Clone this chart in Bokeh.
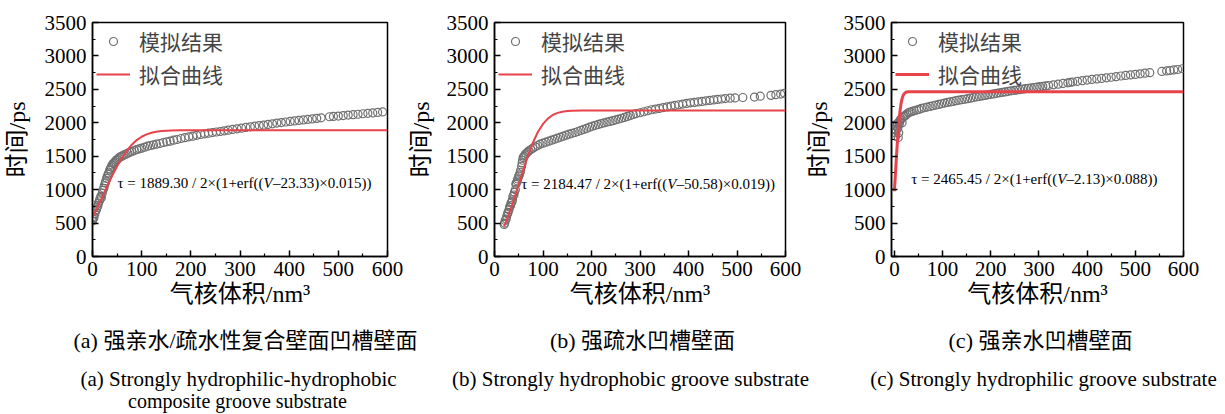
from bokeh.plotting import figure
from bokeh.models import Label, Legend, LegendItem, FixedTicker, Range1d
from bokeh.layouts import row, column
from bokeh.embed import file_html
from bokeh.resources import INLINE

SERIF = "'Liberation Serif', 'Noto Sans CJK SC'"

# ---------------- data ----------------
x_ticks = [0, 100, 200, 300, 400, 500, 600]
y_ticks = [0, 500, 1000, 1500, 2000, 2500, 3000, 3500]

sim_a = [(0, 530), (1, 560), (2, 600), (3, 580), (5, 640), (6, 680), (8, 700), (9, 730), (11, 760),
         (12, 800), (14, 830), (15, 860), (17, 900), (18, 880), (20, 950), (21, 990), (23, 1020),
         (24, 1060), (26, 1100), (27, 1130), (29, 1170), (30, 1200), (32, 1230), (33, 1250),
         (35, 1290), (36, 1310), (38, 1340), (40, 1370), (42, 1390), (44, 1400), (46, 1420),
         (48, 1440), (50, 1450), (53, 1470), (56, 1490), (60, 1500), (64, 1520), (68, 1530),
         (72, 1545), (76, 1560), (80, 1570), (85, 1585), (90, 1600), (95, 1610), (100, 1620),
         (106, 1635), (112, 1650), (118, 1660), (124, 1670), (130, 1680), (137, 1690), (144, 1705),
         (151, 1715), (158, 1725), (165, 1740), (172, 1750), (180, 1765), (188, 1778), (196, 1790),
         (204, 1800), (212, 1812), (220, 1825), (228, 1835), (236, 1845), (244, 1855), (252, 1862),
         (260, 1870), (268, 1880), (276, 1890), (285, 1900), (294, 1910), (303, 1920), (312, 1930),
         (321, 1940), (330, 1950), (339, 1958), (348, 1965), (357, 1975), (366, 1985), (375, 1995),
         (384, 2003), (393, 2012), (402, 2020), (411, 2028), (420, 2035), (429, 2043), (438, 2050),
         (447, 2058), (456, 2066), (465, 2074), (482, 2090), (490, 2095), (500, 2100), (510, 2108),
         (520, 2115), (530, 2122), (540, 2128), (550, 2135), (560, 2142), (570, 2148), (580, 2155),
         (590, 2162)]

sim_b = [(20, 480), (21, 500), (22, 540), (24, 560), (25, 600), (27, 640), (28, 660), (30, 700),
         (31, 740), (33, 760), (34, 800), (36, 820), (37, 850), (38, 900), (40, 920), (41, 960),
         (43, 1000), (44, 1080), (45, 1100), (47, 1130), (48, 1160), (50, 1200), (51, 1220),
         (53, 1260), (54, 1290), (56, 1350), (57, 1400), (58, 1440), (59, 1480), (61, 1500),
         (63, 1520), (65, 1540), (68, 1560), (71, 1580), (75, 1600), (79, 1620), (84, 1640),
         (89, 1660), (94, 1680), (100, 1695), (106, 1710), (112, 1725), (118, 1740), (124, 1755),
         (130, 1770), (136, 1785), (142, 1800), (148, 1815), (154, 1830), (160, 1842), (166, 1855),
         (172, 1870), (178, 1885), (184, 1900), (190, 1915), (196, 1935), (202, 1950), (208, 1962),
         (214, 1975), (220, 1988), (226, 2000), (232, 2010), (238, 2020), (244, 2032), (250, 2045),
         (256, 2055), (262, 2068), (268, 2080), (274, 2095), (280, 2110), (286, 2125), (292, 2138),
         (300, 2150), (308, 2165), (316, 2180), (324, 2195), (332, 2205), (340, 2215), (348, 2228),
         (356, 2238), (364, 2250), (372, 2260), (380, 2270), (388, 2280), (396, 2290), (404, 2298),
         (412, 2305), (420, 2312), (428, 2320), (436, 2328), (444, 2335), (452, 2342), (460, 2350),
         (468, 2356), (476, 2362), (486, 2368), (496, 2372), (512, 2378), (536, 2385), (548, 2398),
         (570, 2410), (580, 2420), (590, 2430), (598, 2440)]

sim_c = [(0, 1960), (1, 1900), (2, 1850), (3, 1800), (4, 1880), (5, 1950), (6, 1990), (7, 1920),
         (8, 1780), (9, 1850), (10, 1980), (11, 2010), (12, 2040), (14, 2060), (16, 2000),
         (18, 2080), (20, 2100), (23, 2110), (26, 2130), (29, 2150), (33, 2160), (37, 2170),
         (41, 2180), (46, 2190), (51, 2200), (56, 2215), (62, 2225), (68, 2235), (74, 2245),
         (80, 2255), (86, 2265), (92, 2275), (98, 2285), (104, 2295), (110, 2305), (116, 2312),
         (122, 2320), (128, 2330), (134, 2338), (140, 2345), (146, 2352), (152, 2360), (158, 2368),
         (164, 2378), (170, 2386), (176, 2395), (182, 2402), (188, 2410), (194, 2418), (200, 2425),
         (206, 2432), (212, 2440), (218, 2448), (224, 2455), (230, 2462), (236, 2470), (242, 2478),
         (248, 2484), (254, 2490), (260, 2497), (266, 2503), (272, 2510), (278, 2516), (284, 2522),
         (290, 2528), (296, 2534), (302, 2540), (308, 2546), (314, 2552), (320, 2558), (330, 2568),
         (340, 2578), (350, 2588), (360, 2598), (365, 2605), (370, 2610), (380, 2620), (390, 2630),
         (400, 2639), (410, 2648), (420, 2656), (430, 2664), (440, 2672), (450, 2681), (460, 2690),
         (470, 2700), (480, 2708), (490, 2716), (500, 2724), (510, 2733), (520, 2742), (530, 2750),
         (555, 2768), (565, 2776), (572, 2782), (580, 2790), (588, 2797), (598, 2808)]

fit_a_v = [0, 10, 20, 30, 40, 50, 60, 70, 80, 90, 100, 110, 120, 130, 140, 150, 160, 180, 200, 600]
fit_a_t = [586, 734, 891, 1051, 1206, 1349, 1477, 1585, 1673, 1741, 1791, 1827, 1851, 1867, 1877,
           1882, 1886, 1889, 1889, 1889]

fit_b_v = [20, 30, 40, 50, 60, 70, 80, 90, 100, 110, 120, 130, 140, 150, 160, 180, 200, 600]
fit_b_t = [449, 633, 848, 1079, 1311, 1527, 1716, 1869, 1983, 2062, 2117, 2148, 2166, 2176, 2181,
           2184, 2184, 2184]

fit_c_v = [0, 1, 2, 3, 4, 5, 6, 7, 8, 9, 10, 12, 14, 16, 18, 20, 25, 30, 600]
fit_c_t = [976, 1095, 1217, 1339, 1460, 1577, 1689, 1794, 1892, 1981, 2062, 2193, 2294, 2361, 2405,
           2433, 2460, 2465, 2465]

legend_labels = ["模拟结果", "拟合曲线"]
x_label = "气核体积/nm³"
y_label = "时间/ps"

eq_a = ("τ = 1889.30 / 2×(1+erf((", "V", "–23.33)×0.015))")
eq_b = ("τ = 2184.47 / 2×(1+erf((", "V", "–50.58)×0.019))")
eq_c = ("τ = 2465.45 / 2×(1+erf((", "V", "–2.13)×0.088))")

cap_a = ["(a) 强亲水/疏水性复合壁面凹槽壁面", "(a) Strongly hydrophilic-hydrophobic", "composite groove substrate"]
cap_b = ["(b) 强疏水凹槽壁面", "(b) Strongly hydrophobic groove substrate"]
cap_c = ["(c) 强亲水凹槽壁面", "(c) Strongly hydrophilic groove substrate"]

RED = "#e8424b"
GRAY = "#6f6f6f"
TOP_H = 326


def make_panel(sim, fv, ft, eq, width, bl, frame_w, bt, frame_bottom, x0, fit_w,
               eq_xpx, eq_ypx, ylab_standoff):
    height = TOP_H
    bb = height - frame_bottom
    frame_h = frame_bottom - bt
    p = figure(width=width, height=height, output_backend="svg", toolbar_location=None,
               x_range=Range1d(x0, 600), y_range=Range1d(0, 3500),
               min_border_left=bl, min_border_right=width - bl - frame_w,
               min_border_top=bt, min_border_bottom=bb)
    p.background_fill_color = "white"
    p.border_fill_color = "white"
    p.outline_line_color = "black"
    p.outline_line_width = 1.5
    p.xgrid.visible = False
    p.ygrid.visible = False

    sx = frame_w / (600 - x0)
    sy = frame_h / 3500.0

    def dx(px):  # px relative to figure left
        return x0 + (px - bl) / sx

    def dy(py):
        return (frame_bottom - py) / sy

    for ax, ticks, minor in ((p.xaxis[0], x_ticks, [50, 150, 250, 350, 450, 550]),
                             (p.yaxis[0], y_ticks, [250, 750, 1250, 1750, 2250, 2750, 3250])):
        ax.ticker = FixedTicker(ticks=ticks, minor_ticks=minor)
        ax.major_tick_in = 6
        ax.major_tick_out = 0
        ax.minor_tick_in = 3
        ax.minor_tick_out = 0
        ax.axis_line_width = 1.5
        ax.major_tick_line_width = 1.5
        ax.minor_tick_line_width = 1.2
        ax.major_label_text_font = SERIF
        ax.major_label_text_font_size = "21px"
        ax.major_label_text_color = "black"
        ax.axis_label_text_font = SERIF
        ax.axis_label_text_font_size = "24px"
        ax.axis_label_text_font_style = "normal"
        ax.axis_label_text_color = "black"
    p.xaxis.axis_label = x_label
    p.yaxis.axis_label = y_label
    p.xaxis.major_label_standoff = 5
    p.xaxis.axis_label_standoff = 2
    p.yaxis.major_label_standoff = 6
    p.yaxis.axis_label_standoff = ylab_standoff

    sv = [s[0] for s in sim]
    st = [s[1] for s in sim]
    sc = p.scatter(sv, st, marker="circle", size=8, fill_color=None, line_color=GRAY,
                   line_width=1.2)
    ln = p.line(fv, ft, line_color=RED, line_width=fit_w)

    legend = Legend(items=[LegendItem(label=legend_labels[0], renderers=[sc]),
                           LegendItem(label=legend_labels[1], renderers=[ln])],
                    location="top_left", margin=4, padding=1, spacing=3,
                    glyph_width=34, glyph_height=20, label_height=20, label_standoff=9,
                    border_line_color=None, background_fill_alpha=0,
                    label_text_font=SERIF, label_text_font_size="21px")
    p.add_layout(legend)

    xv = dx(eq_xpx)
    yv = dy(eq_ypx)
    common = dict(text_font=SERIF, text_font_size="15px", text_baseline="middle",
                  text_color="black")
    p.add_layout(Label(x=xv, y=yv, text=eq[0], text_align="right", **common))
    p.add_layout(Label(x=xv, y=yv, text=eq[1], text_align="left", text_font_style="italic",
                       **common))
    p.add_layout(Label(x=dx(eq_xpx + 9.5), y=yv, text=eq[2], text_align="left", **common))
    return p


pa = make_panel(sim_a, fit_a_v, fit_a_t, eq_a, width=404, bl=92, frame_w=295, bt=20,
                frame_bottom=256, x0=0, fit_w=2, eq_xpx=263, eq_ypx=182, ylab_standoff=12)
pb = make_panel(sim_b, fit_b_v, fit_b_t, eq_b, width=398, bl=86, frame_w=295, bt=20,
                frame_bottom=256, x0=0, fit_w=2, eq_xpx=665 - 404, eq_ypx=183, ylab_standoff=10)
pc = make_panel(sim_c, fit_c_v, fit_c_t, eq_c, width=423, bl=85, frame_w=296, bt=22,
                frame_bottom=262, x0=-6, fit_w=3, eq_xpx=1055 - 802, eq_ypx=183, ylab_standoff=9)

# caption strip (pixel coordinates of the page)
cap = figure(width=1225, height=414 - TOP_H, output_backend="svg", toolbar_location=None,
             x_range=Range1d(0, 1225), y_range=Range1d(414, TOP_H),
             min_border=0, outline_line_color=None)
cap.axis.visible = False
cap.grid.visible = False
cap_rows = [(cap_a, [245, 238, 237]), (cap_b, [642, 630]), (cap_c, [1040, 1043])]
cap_y = [340, 378, 400]
cap_size = ["22px", "21px", "20px"]
for texts, xs in cap_rows:
    for i, t in enumerate(texts):
        cap.add_layout(Label(x=xs[i], y=cap_y[i], text=t, text_align="center",
                             text_baseline="middle", text_font=SERIF,
                             text_font_size=cap_size[i], text_color="black"))
# a dummy invisible renderer keeps the strip figure valid
cap.scatter([0], [TOP_H], size=0, alpha=0)

layout = column(row(pa, pb, pc), cap)
open("out.html", "w").write(file_html(layout, INLINE))
